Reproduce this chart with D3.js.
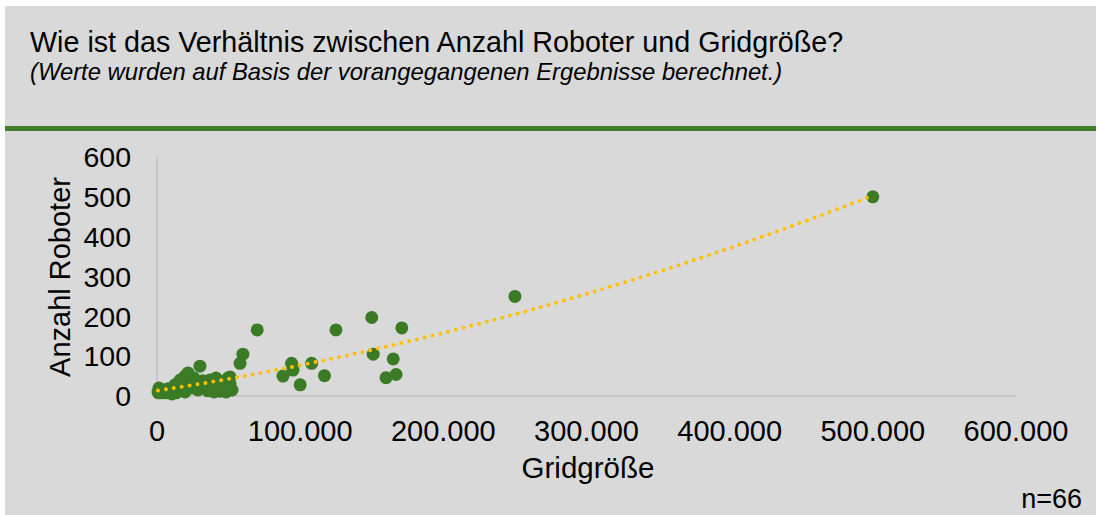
<!DOCTYPE html>
<html>
<head>
<meta charset="utf-8">
<script src="https://cdn.jsdelivr.net/npm/d3@7"></script>
<style>
  html, body { margin: 0; padding: 0; background: #fff; }
  svg { display: block; font-family: "Liberation Sans", Arial, sans-serif; }
</style>
</head>
<body>
<svg id="canvas"></svg>
<script>
const width = 1096;
const height = 515;

// Gridgröße / Anzahl Roboter
const gridSize = [
  500000, 250000, 150000, 171000, 125000, 70000, 60000, 58000, 151000, 94000,
  108000, 88000, 95000, 100000, 117000, 165000, 160000, 167000,
  2100, 2800, 4200, 6300, 9100, 11200, 13300, 14700, 16800, 18200,
  19600, 21700, 23000, 20300, 24400, 26500, 28600, 30000, 32100, 34200,
  35600, 38400, 41200, 42600, 44700, 48200, 49600, 51000, 51000, 1400,
  700, 7700, 12600, 16100, 25800, 37000, 46800, 10500, 19600, 27900,
  39800, 44000, 4900, 22400, 52400, 1000, 15400, 32800
];
const robots = [
  500, 250, 197, 171, 166, 166, 105, 82, 105, 82,
  82, 50, 65, 28, 51, 93, 46, 54,
  13, 8, 15, 8, 10, 13, 8, 13, 20, 38,
  50, 58, 48, 30, 30, 20, 15, 75, 38, 18,
  13, 28, 45, 20, 35, 10, 45, 30, 48, 20,
  10, 18, 28, 40, 45, 40, 23, 5, 10, 33,
  10, 12, 12, 20, 15, 8, 25, 25
];
const xTicks = [0, 100000, 200000, 300000, 400000, 500000, 600000];
const yTicks = [0, 100, 200, 300, 400, 500, 600];

const points = gridSize.map((g, i) => ({x: g, y: robots[i]}));

const x = d3.scaleLinear().domain([0, 600000]).range([157, 1016]);
const y = d3.scaleLinear().domain([0, 600]).range([396, 157]);

const fmt = d3.formatLocale({decimal: ",", thousands: ".", grouping: [3], currency: ["", "€"]}).format(",");

// quadratic least squares, like the Excel polynomial trendline
const polyFit = (pts) => {
  const s = [0, 0, 0, 0, 0], t = [0, 0, 0];
  pts.forEach(p => {
    const u = p.x / 1000;
    for (let k = 0; k < 5; k++) s[k] += Math.pow(u, k);
    for (let k = 0; k < 3; k++) t[k] += p.y * Math.pow(u, k);
  });
  const m = [[s[0], s[1], s[2], t[0]], [s[1], s[2], s[3], t[1]], [s[2], s[3], s[4], t[2]]];
  for (let i = 0; i < 3; i++) {
    for (let j = i + 1; j < 3; j++) {
      const f = m[j][i] / m[i][i];
      for (let k = i; k < 4; k++) m[j][k] -= f * m[i][k];
    }
  }
  const c = [0, 0, 0];
  for (let i = 2; i >= 0; i--) {
    let v = m[i][3];
    for (let k = i + 1; k < 3; k++) v -= m[i][k] * c[k];
    c[i] = v / m[i][i];
  }
  return v => c[0] + c[1] * (v / 1000) + c[2] * (v / 1000) * (v / 1000);
};

const svg = d3.select('svg#canvas')
    .attr("width", width)
    .attr("height", height);

svg.append("rect")
    .attr("x", 5)
    .attr("y", 6)
    .attr("width", width - 5)
    .attr("height", height - 6)
    .attr("fill", "#d9d9d9");

svg.append("text")
    .attr("x", 30)
    .attr("y", 52)
    .attr("font-size", 28.7)
    .attr("fill", "#000")
    .text("Wie ist das Verhältnis zwischen Anzahl Roboter und Gridgröße?");

svg.append("text")
    .attr("x", 30)
    .attr("y", 80)
    .attr("font-size", 23.8)
    .attr("font-style", "italic")
    .attr("fill", "#000")
    .text("(Werte wurden auf Basis der vorangegangenen Ergebnisse berechnet.)");

svg.append("rect")
    .attr("x", 5)
    .attr("y", 126)
    .attr("width", width - 5)
    .attr("height", 5)
    .attr("fill", "#3f7f2b");

// axes lines
svg.append("line")
    .attr("x1", x(0)).attr("x2", x(0))
    .attr("y1", y(600)).attr("y2", y(0))
    .attr("stroke", "#bfbfbf")
    .attr("stroke-width", 1.5);

svg.append("line")
    .attr("x1", x(0)).attr("x2", x(600000))
    .attr("y1", y(0)).attr("y2", y(0))
    .attr("stroke", "#bfbfbf")
    .attr("stroke-width", 1.5);

svg.append("g")
    .attr("font-size", 28.5)
    .attr("text-anchor", "end")
  .selectAll("text")
  .data(yTicks)
  .join("text")
    .attr("x", 131)
    .attr("y", d => y(d))
    .attr("dy", "0.36em")
    .text(d => d);

svg.append("g")
    .attr("font-size", 29)
    .attr("text-anchor", "middle")
  .selectAll("text")
  .data(xTicks)
  .join("text")
    .attr("x", d => x(d))
    .attr("y", 441)
    .text(d => fmt(d));

svg.append("text")
    .attr("transform", "translate(70,277) rotate(-90)")
    .attr("text-anchor", "middle")
    .attr("font-size", 29)
    .text("Anzahl Roboter");

svg.append("text")
    .attr("x", 588)
    .attr("y", 478)
    .attr("text-anchor", "middle")
    .attr("font-size", 29.5)
    .text("Gridgröße");

svg.append("text")
    .attr("x", 1082)
    .attr("y", 508)
    .attr("text-anchor", "end")
    .attr("font-size", 27)
    .text("n=66");

svg.append("g")
    .attr("fill", "#3b7b25")
  .selectAll("circle")
  .data(points)
  .join("circle")
    .attr("cx", d => x(d.x))
    .attr("cy", d => y(d.y))
    .attr("r", 6.5);

const trend = polyFit(points);
const [xMin, xMax] = d3.extent(gridSize);
const trendPts = d3.range(0, 201).map(i => xMin + (xMax - xMin) * i / 200);

svg.append("path")
    .datum(trendPts)
    .attr("fill", "none")
    .attr("stroke", "#ffc000")
    .attr("stroke-width", 4)
    .attr("stroke-linecap", "round")
    .attr("stroke-dasharray", "0 8")
    .attr("d", d3.line().x(d => x(d)).y(d => y(trend(d))));
</script>
</body>
</html>
